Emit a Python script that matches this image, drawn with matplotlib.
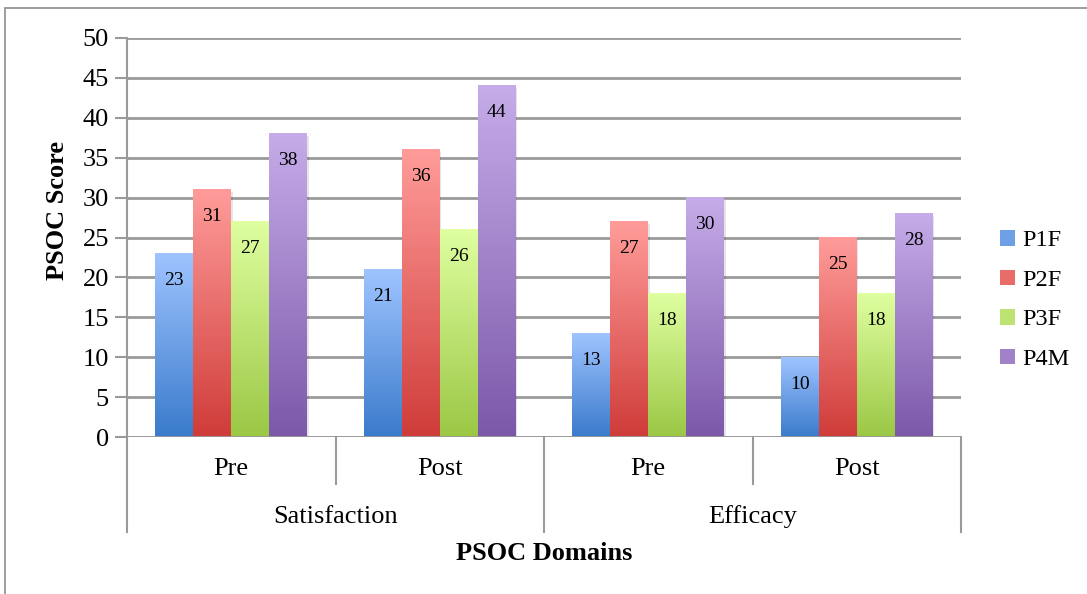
import numpy as np
import matplotlib
matplotlib.use("Agg")
import matplotlib.pyplot as plt
from matplotlib.colors import LinearSegmentedColormap, to_rgb
from matplotlib.patches import Rectangle
from matplotlib.lines import Line2D
import matplotlib.transforms as mtransforms

plt.rcParams['font.family'] = ['Liberation Serif', 'DejaVu Serif']

# ---- data ----
domains = ["Satisfaction", "Efficacy"]
phases = ["Pre", "Post", "Pre", "Post"]
series = ["P1F", "P2F", "P3F", "P4M"]
p1f = [23, 21, 13, 10]
p2f = [31, 36, 27, 25]
p3f = [27, 26, 18, 18]
p4m = [38, 44, 30, 28]
values = [p1f, p2f, p3f, p4m]
yticks = list(range(0, 51, 5))

# gradient colours (top, bottom)
grad = {
    "P1F": ("#9fc4ff", "#3a7bcb"),
    "P2F": ("#ff9c9a", "#cf3c39"),
    "P3F": ("#dfffa0", "#9bc745"),
    "P4M": ("#c6ace9", "#7c58a9"),
}

W, H = 1087, 594
fig = plt.figure(figsize=(W / 100, H / 100), dpi=100)
# outer chart border
fig.patches.append(Rectangle((5 / W, -0.1), 1.2, 1 - 8 / H + 0.1, transform=fig.transFigure,
                             fill=False, edgecolor="#8c8c8c", lw=1.2))

ax = fig.add_axes([127 / W, 1 - 437 / H, (961 - 127) / W, (437 - 38) / H])

grid_c = "#9a9a9a"
ax.set_ylim(0, 50)
ax.set_xlim(-0.5, len(phases) - 0.5)
ax.set_yticks(yticks)
ax.yaxis.grid(True, color=grid_c, lw=2)
ax.set_axisbelow(True)
for s in ["top", "right", "bottom"]:
    ax.spines[s].set_visible(False)
ax.spines["left"].set_color(grid_c)
ax.spines["left"].set_linewidth(1.5)
ax.tick_params(axis="y", length=9, width=1.5, color=grid_c, labelsize=19, pad=4)
ax.tick_params(axis="x", length=0, labelbottom=False)
ax.axhline(0, color=grid_c, lw=2, zorder=3)

x = np.arange(len(phases))
bw = 0.182
offs = (np.arange(len(series)) - 1.5) * bw

for si, (name, vals) in enumerate(zip(series, values)):
    top, bot = grad[name]
    cmap = LinearSegmentedColormap.from_list(name, [bot, top])
    bars = ax.bar(x + offs[si], vals, bw, color="none", edgecolor="none", zorder=2)
    for b, v in zip(bars, vals):
        x0, y0 = b.get_x(), b.get_y()
        w, h = b.get_width(), b.get_height()
        # soft shadow
        ax.add_patch(Rectangle((x0 + 0.008, y0 - 0.25), w, h, facecolor="#000000",
                               alpha=0.10, edgecolor="none", zorder=1.5))
        g = np.linspace(0, 1, 256).reshape(-1, 1)
        ax.imshow(g, extent=[x0, x0 + w, y0, y0 + h], origin="lower", cmap=cmap,
                  aspect="auto", zorder=2.5, interpolation="bilinear")
        ax.annotate(f"{v}", (x0 + w / 2, y0 + h), xytext=(0, -19.5), textcoords="offset points",
                    ha="center", va="center", fontsize=14, color="black", zorder=4)

ax.set_xlim(-0.5, len(phases) - 0.5)
ax.set_ylim(0, 50)

# category axis: separators and labels
trans = mtransforms.blended_transform_factory(ax.transData, fig.transFigure)
for i in range(len(phases) + 1):
    xs = i - 0.5
    long = (i % 2 == 0)
    y_end = 1 - (532 if long else 484) / H
    ax.add_line(Line2D([xs, xs], [1 - 437 / H, y_end], transform=trans, color=grid_c,
                       lw=1.5, clip_on=False))
for i, p in enumerate(phases):
    ax.text(i, 1 - 469 / H, p, transform=trans, ha="center", va="center", fontsize=19)
for j, d in enumerate(domains):
    ax.text(2 * j + 0.5, 1 - 517 / H, d, transform=trans, ha="center", va="center", fontsize=19)

fig.text(544 / W, 1 - 553 / H, "PSOC Domains", ha="center", va="center", fontsize=19, fontweight="bold")
fig.text(57 / W, 1 - 211 / H, "PSOC Score", ha="center", va="center", rotation=90,
         fontsize=19, fontweight="bold")

# legend
handles = []
for n in series:
    c1 = np.array(to_rgb(grad[n][0]))
    c2 = np.array(to_rgb(grad[n][1]))
    handles.append(Rectangle((0, 0), 1, 1, facecolor=(c1 + c2) / 2))
leg = fig.legend(handles, series, loc="center left", bbox_to_anchor=(1000 / W, 1 - 300 / H),
                 frameon=False, fontsize=17.5, handlelength=0.6, handleheight=0.6,
                 handletextpad=0.3, labelspacing=0.75, borderaxespad=0, borderpad=0)

fig.savefig("out.png", dpi=100)
